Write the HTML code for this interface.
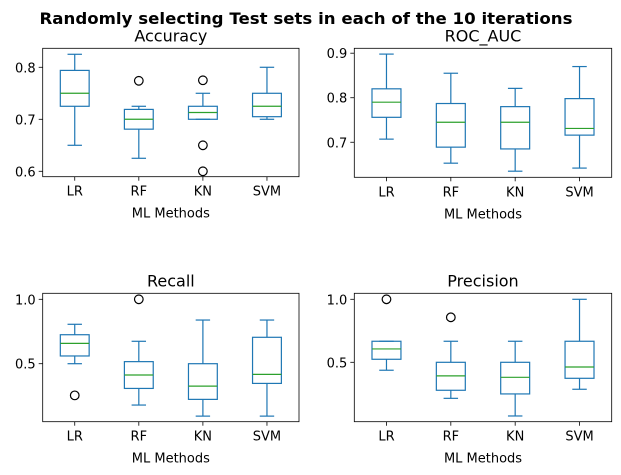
<!DOCTYPE html>
<html><head><meta charset="utf-8"><style>
html,body{margin:0;padding:0;background:#fff;}
svg{display:block;font-family:"DejaVu Sans","Liberation Sans",sans-serif;}
</style></head><body>
<svg id="chart" width="621" height="475" viewBox="0 0 621 475">
<text x="306" y="24" text-anchor="middle" font-size="16" font-weight="bold" textLength="533" lengthAdjust="spacingAndGlyphs">Randomly selecting Test sets in each of the 10 iterations</text>
</svg>
<script>
const categories = ["LR","RF","KN","SVM"];
// [low whisker, q1, median, q3, high whisker]
const accuracyStats = [[0.65,0.725,0.75,0.794,0.825],[0.625,0.681,0.70,0.719,0.725],[0.70,0.70,0.713,0.725,0.75],[0.70,0.705,0.725,0.75,0.80]];
const accuracyOutliers = [[],[0.774],[0.775,0.65,0.60],[]];
const rocStats = [[0.707,0.756,0.79,0.82,0.898],[0.653,0.689,0.745,0.787,0.855],[0.635,0.685,0.745,0.78,0.821],[0.642,0.716,0.731,0.798,0.87]];
const rocOutliers = [[],[],[],[]];
const recallStats = [[0.5,0.56,0.658,0.725,0.806],[0.179,0.308,0.412,0.516,0.674],[0.093,0.223,0.326,0.5,0.839],[0.093,0.347,0.417,0.705,0.839]];
const recallOutliers = [[0.254],[1.0],[],[]];
const precisionStats = [[0.437,0.524,0.606,0.667,0.667],[0.214,0.278,0.392,0.5,0.667],[0.074,0.249,0.381,0.5,0.667],[0.286,0.373,0.463,0.667,1.0]];
const precisionOutliers = [[1.0],[0.857],[],[]];
const accuracyTicks = [0.6,0.7,0.8];
const rocTicks = [0.7,0.8,0.9];
const recallTicks = [0.5,1.0];
const precisionTicks = [0.5,1.0];

const NS="http://www.w3.org/2000/svg";
const svg=document.getElementById('chart');
function mk(tag,attrs,parent){const e=document.createElementNS(NS,tag);for(const k in attrs)e.setAttribute(k,attrs[k]);(parent||svg).appendChild(e);return e;}

const panels=[
 {name:'accuracy',title:'Accuracy',stats:accuracyStats,out:accuracyOutliers,ticks:accuracyTicks,fmt:1,x0:42.7,x1:299,y0:48.3,y1:176.7,ymin:0.5896,ymax:0.8365},
 {name:'roc-auc',title:'ROC_AUC',stats:rocStats,out:rocOutliers,ticks:rocTicks,fmt:1,x0:354.3,x1:611.7,y0:48.3,y1:177.3,ymin:0.6213,ymax:0.911},
 {name:'recall',title:'Recall',stats:recallStats,out:recallOutliers,ticks:recallTicks,fmt:1,x0:42.7,x1:299,y0:293.3,y1:421.7,ymin:0.0497,ymax:1.0466},
 {name:'precision',title:'Precision',stats:precisionStats,out:precisionOutliers,ticks:precisionTicks,fmt:1,x0:354.3,x1:611.7,y0:293.3,y1:421.7,ymin:0.0286,ymax:1.0476}
];
const blue="#1f77b4", green="#2ca02c";
panels.forEach(p=>{
 const g=mk('g',{});
 
 
 const xs=i=>p.x0+(i+0.5)*(p.x1-p.x0)/categories.length;
 const ys=v=>p.y1-(v-p.ymin)/(p.ymax-p.ymin)*(p.y1-p.y0);
 const bw=0.45*(p.x1-p.x0)/categories.length;
 const t=mk('text',{x:(p.x0+p.x1)/2,y:p.y0-7,'text-anchor':'middle','font-size':16},g);
 t.textContent=p.title;
 
 
 p.stats.forEach((s,i)=>{
  const cx=xs(i);
  const bg=mk('g',{fill:'none',stroke:blue,'stroke-width':1.2},g);
  
  
  mk('rect',{x:cx-bw/2,y:ys(s[3]),width:bw,height:ys(s[1])-ys(s[3])},bg);
  mk('line',{x1:cx,x2:cx,y1:ys(s[1]),y2:ys(s[0])},bg);
  mk('line',{x1:cx,x2:cx,y1:ys(s[3]),y2:ys(s[4])},bg);
  mk('line',{x1:cx-bw/4,x2:cx+bw/4,y1:ys(s[0]),y2:ys(s[0])},bg);
  mk('line',{x1:cx-bw/4,x2:cx+bw/4,y1:ys(s[4]),y2:ys(s[4])},bg);
  mk('line',{x1:cx-bw/2,x2:cx+bw/2,y1:ys(s[2]),y2:ys(s[2]),stroke:green},bg);
  p.out[i].forEach(v=>{
   const c=mk('circle',{cx:cx,cy:ys(v),r:4.3,fill:'none',stroke:'#000','stroke-width':1.2},g);
   
   
  });
  mk('line',{x1:cx,x2:cx,y1:p.y1,y2:p.y1+4,stroke:'#000','stroke-width':0.8},g);
  const lt=mk('text',{x:cx,y:p.y1+19,'text-anchor':'middle','font-size':13},g);
  lt.textContent=categories[i];
  
  
 });
 p.ticks.forEach(v=>{
  const y=ys(v);
  mk('line',{x1:p.x0-4,x2:p.x0,y1:y,y2:y,stroke:'#000','stroke-width':0.8},g);
  const tt=mk('text',{x:p.x0-7,y:y+5,'text-anchor':'end','font-size':13},g);
  tt.textContent=v.toFixed(p.fmt);
  
  
 });
 mk('rect',{x:p.x0,y:p.y0,width:p.x1-p.x0,height:p.y1-p.y0,fill:'none',stroke:'#000','stroke-width':0.8},g);
 const xl=mk('text',{x:(p.x0+p.x1)/2,y:p.y1+41,'text-anchor':'middle','font-size':13},g);
 xl.textContent='ML Methods';
 
 
});
</script>
</body></html>
